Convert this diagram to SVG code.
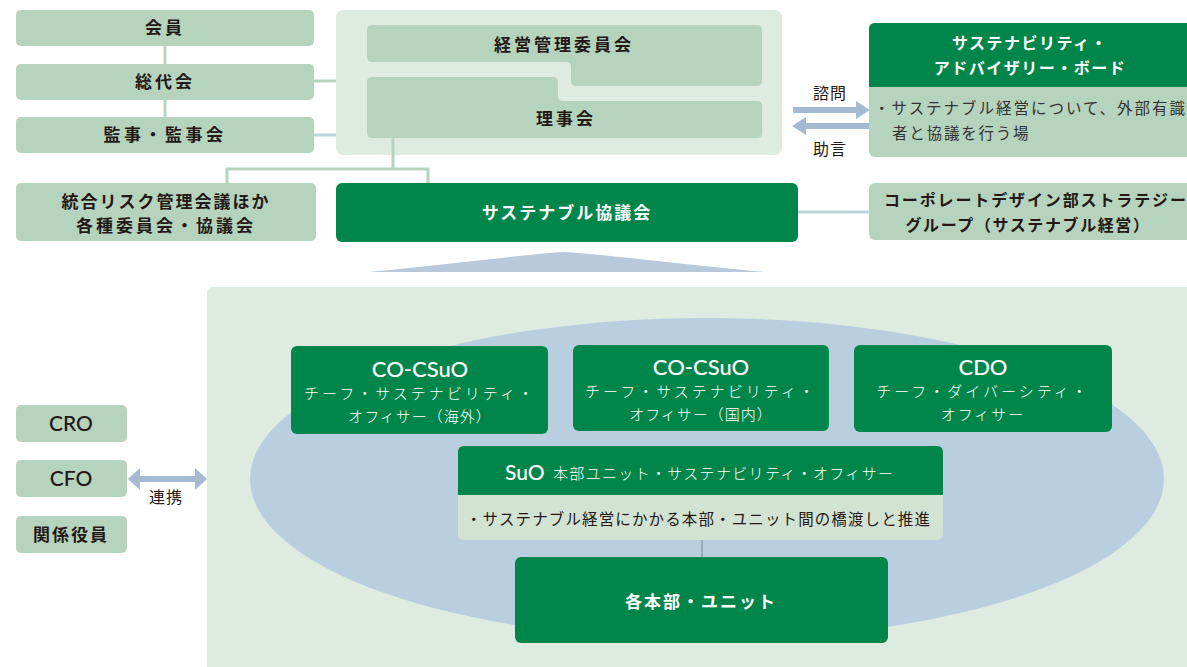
<svg xmlns="http://www.w3.org/2000/svg" width="1187" height="667" viewBox="0 0 1187 667">
<style>
.lg{fill:#b6d4bd}
.pale{fill:#deebe0}
.dg{fill:#00864b}
.jp{font-family:"Noto Sans CJK JP","Noto Sans",sans-serif}
.b{font-weight:700;fill:#231815}
.t17{font-size:17px}
.w{fill:#ffffff}
.lat{font-family:Lato,"Noto Sans CJK JP",sans-serif}
.con{stroke:#b6d4bd;stroke-width:3;fill:none}
.arr{fill:#a3bad2}
</style>
<rect width="1187" height="667" fill="#ffffff"/>

<!-- background areas -->
<g id="upper-container">
<rect x="336" y="10" width="446" height="145" rx="7" class="pale"/>
</g>
<g id="lower-container">
<rect x="207" y="287" width="990" height="390" rx="6" class="pale"/>
<ellipse cx="707" cy="479" rx="457" ry="161" fill="#b9cfe0"/>
</g>
<path d="M368,272 C450,264 530,254 563,252 C600,254 680,264 765,272 Z" fill="#b7c9da"/>

<!-- connectors -->
<g id="connectors">
<line x1="165" y1="46" x2="165" y2="64" class="con"/>
<line x1="165" y1="100" x2="165" y2="117" class="con"/>
<line x1="314" y1="81" x2="336" y2="81" class="con"/>
<line x1="314" y1="135" x2="336" y2="135" stroke="#b9d5d8" stroke-width="3"/>
<polyline points="393,138 393,169" class="con"/>
<polyline points="227,183 227,169 428,169 428,183" class="con"/>
<line x1="798" y1="212" x2="869" y2="212" stroke="#b9d5d8" stroke-width="3"/>
<line x1="702" y1="540" x2="702" y2="557" stroke="#9aaab8" stroke-width="2"/>
<!-- 諮問 / 助言 arrows -->
<rect x="793" y="107" width="64" height="6" class="arr"/>
<polygon points="856,101 870,110 856,119" class="arr"/>
<rect x="805" y="123" width="64" height="6" class="arr"/>
<polygon points="806,117 792,126 806,135" class="arr"/>
<!-- 連携 -->
<rect x="139" y="476" width="57" height="6" class="arr"/>
<polygon points="140,468 128,479 140,490" class="arr"/>
<polygon points="195,468 207,479 195,490" class="arr"/>
<text x="830" y="99" class="jp" font-size="16" fill="#231815" text-anchor="middle" letter-spacing="1">諮問</text>
<text x="830" y="155" class="jp" font-size="16" fill="#231815" text-anchor="middle" letter-spacing="1">助言</text>
<text x="166" y="503" class="jp" font-size="16" fill="#231815" text-anchor="middle" letter-spacing="1">連携</text>
</g>

<!-- left column -->
<g id="kaiin"><rect x="16" y="10" width="298" height="36" rx="5" class="lg"/>
<text x="165" y="34" class="jp b t17" text-anchor="middle" letter-spacing="3">会員</text></g>
<g id="soudaikai"><rect x="16" y="64" width="298" height="36" rx="5" class="lg"/>
<text x="165" y="88" class="jp b t17" text-anchor="middle" letter-spacing="3">総代会</text></g>
<g id="kanji"><rect x="16" y="117" width="298" height="36" rx="5" class="lg"/>
<text x="165" y="141" class="jp b t17" text-anchor="middle" letter-spacing="3.5">監事・監事会</text></g>
<g id="risk"><rect x="16" y="183" width="300" height="58" rx="5" class="lg"/>
<text x="166" y="208" class="jp b t17" text-anchor="middle" letter-spacing="2">統合リスク管理会議ほか</text>
<text x="166" y="232" class="jp b t17" text-anchor="middle" letter-spacing="3">各種委員会・協議会</text></g>

<!-- management -->
<g id="keiei">
<path d="M372,25 H757 Q762,25 762,30 V81 Q762,86 757,86 H576 Q571,86 571,81 V67 Q571,62 566,62 H372 Q367,62 367,57 V30 Q367,25 372,25 Z" class="lg"/>
<text x="564" y="51" class="jp b t17" text-anchor="middle" letter-spacing="3">経営管理委員会</text></g>
<g id="rijikai">
<path d="M372,77 H553 Q558,77 558,82 V96 Q558,101 563,101 H757 Q762,101 762,106 V133 Q762,138 757,138 H372 Q367,138 367,133 V82 Q367,77 372,77 Z" class="lg"/>
<text x="566" y="125" class="jp b t17" text-anchor="middle" letter-spacing="3">理事会</text></g>

<g id="sustainable-council"><rect x="336" y="183" width="462" height="59" rx="6" class="dg"/>
<text x="567" y="219" class="jp t17 w" font-weight="700" text-anchor="middle" letter-spacing="2">サステナブル協議会</text></g>

<!-- advisory board -->
<g id="advisory">
<rect x="869" y="23" width="330" height="134" rx="6" class="lg"/>
<path d="M875,23 H1199 V87 H869 V29 Q869,23 875,23 Z" class="dg"/>
<text x="1030" y="49" class="jp w" font-size="16" font-weight="700" text-anchor="middle" letter-spacing="1.5">サステナビリティ・</text>
<text x="1030" y="74" class="jp w" font-size="16" font-weight="700" text-anchor="middle" letter-spacing="1.5">アドバイザリー・ボード</text>
<text x="874" y="114" class="jp" font-size="15.5" fill="#333" textLength="311" lengthAdjust="spacing">・サステナブル経営について、外部有識</text>
<text x="892" y="139" class="jp" font-size="15.5" fill="#333" letter-spacing="1.8">者と協議を行う場</text>
</g>

<g id="corporate-design">
<rect x="869" y="183" width="330" height="57" rx="6" class="lg"/>
<text x="884" y="206" class="jp b" font-size="16" textLength="302" lengthAdjust="spacing">コーポレートデザイン部ストラテジー</text>
<text x="1028" y="231" class="jp b" font-size="16" text-anchor="middle" letter-spacing="1.6">グループ（サステナブル経営）</text>
</g>

<!-- left officers -->
<g id="cro"><rect x="16" y="405" width="111" height="37" rx="5" class="lg"/>
<text x="71" y="431" class="lat" font-size="21" font-weight="500" fill="#231815" text-anchor="middle">CRO</text></g>
<g id="cfo"><rect x="16" y="460" width="111" height="37" rx="5" class="lg"/>
<text x="71" y="486" class="lat" font-size="21" font-weight="500" fill="#231815" text-anchor="middle">CFO</text></g>
<g id="kankei"><rect x="16" y="516" width="111" height="37" rx="5" class="lg"/>
<text x="71" y="541" class="jp b t17" text-anchor="middle" letter-spacing="2">関係役員</text></g>

<!-- officer boxes -->
<g id="co-csuo-overseas"><rect x="291" y="346" width="257" height="88" rx="6" class="dg"/>
<text x="420" y="377" class="lat w" font-size="22" font-weight="500" text-anchor="middle">CO-CSuO</text>
<text x="420" y="399" class="jp w" font-size="15" font-weight="300" text-anchor="middle" letter-spacing="3">チーフ・サステナビリティ・</text>
<text x="420" y="422" class="jp w" font-size="15" font-weight="300" text-anchor="middle" letter-spacing="1">オフィサー（海外）</text></g>
<g id="co-csuo-domestic"><rect x="573" y="345" width="256" height="86" rx="6" class="dg"/>
<text x="701" y="375" class="lat w" font-size="22" font-weight="500" text-anchor="middle">CO-CSuO</text>
<text x="701" y="397" class="jp w" font-size="15" font-weight="300" text-anchor="middle" letter-spacing="3">チーフ・サステナビリティ・</text>
<text x="701" y="420" class="jp w" font-size="15" font-weight="300" text-anchor="middle" letter-spacing="1">オフィサー（国内）</text></g>
<g id="cdo"><rect x="854" y="345" width="258" height="87" rx="6" class="dg"/>
<text x="983" y="375" class="lat w" font-size="22" font-weight="500" text-anchor="middle">CDO</text>
<text x="983" y="397" class="jp w" font-size="15" font-weight="300" text-anchor="middle" letter-spacing="3">チーフ・ダイバーシティ・</text>
<text x="983" y="420" class="jp w" font-size="15" font-weight="300" text-anchor="middle" letter-spacing="2">オフィサー</text></g>

<g id="suo">
<rect x="458" y="446" width="485" height="94" rx="6" fill="#d3e3d3"/>
<path d="M464,446 H937 Q943,446 943,452 V495 H458 V452 Q458,446 464,446 Z" class="dg"/>
<text x="505" y="480" class="lat w" font-size="21" font-weight="500">SuO</text>
<text x="553" y="479" class="jp w" font-size="15" font-weight="300" textLength="340" lengthAdjust="spacing">本部ユニット・サステナビリティ・オフィサー</text>
<text x="466" y="525" class="jp" font-size="15.5" fill="#231815" textLength="464" lengthAdjust="spacing">・サステナブル経営にかかる本部・ユニット間の橋渡しと推進</text>
</g>

<g id="units"><rect x="515" y="557" width="373" height="86" rx="6" class="dg"/>
<text x="701" y="608" class="jp w" font-size="17" font-weight="700" text-anchor="middle" letter-spacing="2">各本部・ユニット</text></g>
</svg>
